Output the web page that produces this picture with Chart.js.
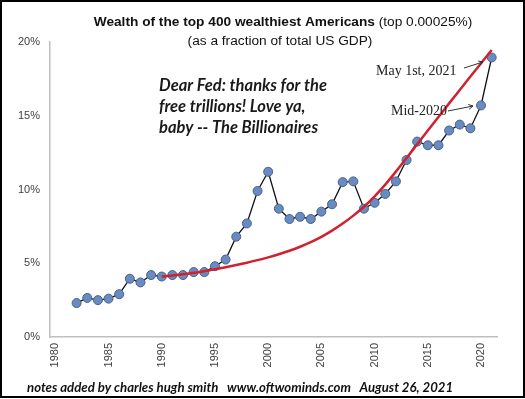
<!DOCTYPE html>
<html>
<head>
<meta charset="utf-8">
<script src="https://cdn.jsdelivr.net/npm/chart.js@4.4.1/dist/chart.umd.min.js"></script>
<style>
  html, body { margin: 0; padding: 0; background: #fff; }
  #wrap { width: 525px; height: 399px; position: relative; }
</style>
</head>
<body>
<div id="wrap"><canvas id="wealth-chart"></canvas></div>
<script>
// x categories: one slot per year, labels every 5 years
var years = [];
for (var y = 1980; y <= 2021; y++) years.push(String(y));

// wealth of top 400 as % of GDP, 1982..2021
var wealthStart = 1982;
var wealthShare = [2.3, 2.65, 2.5, 2.6, 2.9, 3.95, 3.7, 4.2, 4.1, 4.2,
                   4.2, 4.4, 4.4, 4.8, 5.25, 6.8, 7.7, 9.9, 11.2, 8.7,
                   8.0, 8.15, 8.0, 8.5, 9.0, 10.5, 10.55, 8.7, 9.1, 9.7,
                   10.55, 12.0, 13.25, 13.0, 13.0, 14.0, 14.4, 14.15, 15.7, 18.95];

// red trend curve drawn on the chart, 1990..2021
var trendStart = 1990;
var trendLine = [4.1, 4.17, 4.25, 4.35, 4.46, 4.59, 4.73, 4.88, 5.04, 5.21,
                 5.4, 5.61, 5.85, 6.12, 6.43, 6.79, 7.21, 7.69, 8.23, 8.83,
                 9.53, 10.33, 11.21, 12.13, 13.07, 14.0, 14.92, 15.84, 16.75, 17.66,
                 18.56, 19.46];

var yTicks = [0, 5, 10, 15, 20];

function alignTo(start, values) {
    return years.map(function (yr) {
        var i = Number(yr) - start;
        return (i >= 0 && i < values.length) ? values[i] : null;
    });
}

var notes = {
    id: 'notes',
    afterDraw: function (chart) {
        var c = chart.ctx;
        c.save();
        c.fillStyle = '#111';
        c.textBaseline = 'middle';
        c.textAlign = 'left';
        // title with bold and normal parts
        var t1 = 'Wealth of the top 400 wealthiest Americans';
        var t2 = ' (top 0.00025%)';
        c.font = 'bold 13.7px "Liberation Sans", Arial, sans-serif';
        var w1 = c.measureText(t1).width;
        c.font = '13.7px "Liberation Sans", Arial, sans-serif';
        var w2 = c.measureText(t2).width;
        var x0 = 283 - (w1 + w2) / 2;
        c.font = 'bold 13.7px "Liberation Sans", Arial, sans-serif';
        c.fillText(t1, x0, 22);
        c.font = '13.7px "Liberation Sans", Arial, sans-serif';
        c.fillText(t2, x0 + w1, 22);
        c.textAlign = 'center';
        c.fillText('(as a fraction of total US GDP)', 280, 41);

        // commentary
        c.textAlign = 'left';
        c.fillStyle = '#1a1a1a';
        c.font = 'italic bold 16.5px Lato, "Open Sans", sans-serif';
        c.fillText('Dear Fed: thanks for the', 159, 86);
        c.fillText('free trillions! Love ya,', 159, 107);
        c.fillText('baby -- The Billionaires', 159, 128);

        // point labels with arrows
        c.fillStyle = '#222';
        c.font = '14px "Liberation Serif", "DejaVu Serif", serif';
        c.fillText('May 1st, 2021', 376, 71);
        c.fillText('Mid-2020', 391, 111);
        c.strokeStyle = '#333';
        c.lineWidth = 1;
        function arrow(x1, y1, x2, y2) {
            c.beginPath();
            c.moveTo(x1, y1);
            c.lineTo(x2, y2);
            c.stroke();
            var a = Math.atan2(y2 - y1, x2 - x1);
            c.beginPath();
            c.moveTo(x2, y2);
            c.lineTo(x2 - 5 * Math.cos(a - 0.5), y2 - 5 * Math.sin(a - 0.5));
            c.moveTo(x2, y2);
            c.lineTo(x2 - 5 * Math.cos(a + 0.5), y2 - 5 * Math.sin(a + 0.5));
            c.stroke();
        }
        arrow(464, 68, 483, 62);
        arrow(448, 111, 473, 106);

        // footer
        c.fillStyle = '#111';
        c.font = 'italic bold 13.2px Lato, "Open Sans", sans-serif';
        c.fillText('notes added by charles hugh smith   www.oftwominds.com   August 26, 2021', 27, 388);

        // frame
        c.strokeStyle = '#000';
        c.lineWidth = 2;
        c.strokeRect(1, 1, 523, 396);
        c.restore();
    }
};

var ctx = document.getElementById('wealth-chart');
var wealthChart = new Chart(ctx, {
    type: 'line',
    data: {
        labels: years,
        datasets: [{
            label: 'Trend',
            data: alignTo(trendStart, trendLine),
            borderColor: '#d0212f',
            borderWidth: 2.5,
            pointRadius: 0,
            cubicInterpolationMode: 'monotone',
            fill: false
        },
            {
                label: 'Top 400 wealth / GDP',
                data: alignTo(wealthStart, wealthShare),
                borderColor: '#111',
                borderWidth: 1.3,
                pointRadius: 4.5,
                pointBackgroundColor: '#6a8bbf',
                pointBorderColor: '#44618f',
                pointBorderWidth: 1,
                tension: 0,
                fill: false
            }
        ]
    },
    options: {
        responsive: true,
        maintainAspectRatio: false,
        animation: false,
        layout: { padding: { top: 42, right: 28, left: 0, bottom: 0 } },
        plugins: {
            legend: { display: false },
            tooltip: { enabled: false }
        },
        scales: {
            x: {
                type: 'category',
                offset: true,
                grid: { display: false, drawTicks: false },
                border: { color: '#bfbfbf', width: 1.5 },
                ticks: {
                    autoSkip: false,
                    minRotation: 90,
                    maxRotation: 90,
                    padding: 6,
                    color: '#404040',
                    font: { family: '"Liberation Sans", Arial, sans-serif', size: 11 },
                    callback: function (val) {
                        var lab = this.getLabelForValue(val);
                        return Number(lab) % 5 === 0 ? lab : '';
                    }
                },
                afterFit: function (scale) { scale.height = 62; }
            },
            y: {
                min: 0,
                max: 20,
                grid: { display: false, drawTicks: false },
                border: { color: '#bfbfbf', width: 1.5 },
                afterBuildTicks: function (scale) {
                    scale.ticks = yTicks.map(function (v) { return { value: v }; });
                },
                ticks: {
                    padding: 10,
                    color: '#404040',
                    font: { family: '"Liberation Sans", Arial, sans-serif', size: 11 },
                    callback: function (v) { return v + '%'; }
                },
                afterFit: function (scale) { scale.width = 50; }
            }
        }
    },
    plugins: [notes]
});
</script>
</body>
</html>
